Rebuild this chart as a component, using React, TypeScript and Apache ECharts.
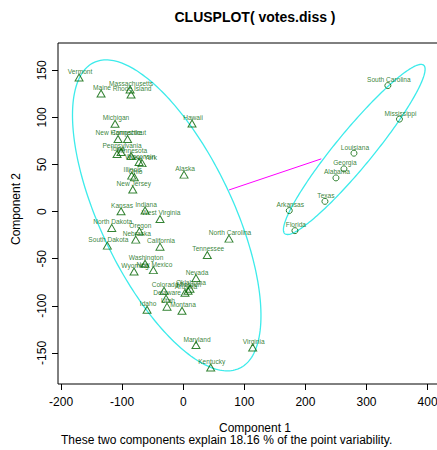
import React, { useEffect, useRef } from 'react';
import * as echarts from 'echarts';

const cluster1Names = [
  'Vermont', 'Maine', 'Massachusetts', 'Rhode Island', 'Michigan', 'New Hampshire', 'Connecticut',
  'Pennsylvania', 'Iowa', 'Minnesota', 'Wisconsin', 'New York', 'Illinois', 'Ohio', 'New Jersey',
  'Alaska', 'Hawaii', 'Kansas', 'Indiana', 'West Virginia', 'North Dakota', 'Oregon', 'Nebraska',
  'South Dakota', 'California', 'North Carolina', 'Tennessee', 'Washington', 'Wyoming', 'New Mexico',
  'Nevada', 'Colorado', 'Delaware', 'Utah', 'Idaho', 'Montana', 'Arizona', 'Missouri', 'Oklahoma',
  'Maryland', 'Virginia', 'Kentucky'
];
const cluster1X = [
  -170.5, -134.5, -87.0, -85.4, -111.6, -106.7, -91.1,
  -101.8, -108.3, -85.4, -72.3, -67.4, -84.3, -80.0, -82.6,
  1.3, 14.4, -101.8, -62.5, -38.0, -117.0, -71.8, -77.7,
  -124.2, -38.0, 74.9, 39.4, -62.5, -80.5, -48.9,
  20.9, -31.4, -28.1, -26.5, -59.2, -2.0, 2.9, 7.9, 11.1,
  20.9, 113.7, 45.0
];
const cluster1Y = [
  142.4, 125.4, 129.6, 124.3, 93.2, 77.1, 77.1,
  63.3, 61.1, 59.0, 52.6, 51.5, 38.2, 36.4, 23.4,
  39.3, 93.5, 0.3, 1.1, -7.8, -17.3, -20.9, -29.7,
  -36.1, -37.2, -28.7, -46.0, -55.4, -63.6, -62.1,
  -70.6, -84.0, -92.4, -100.9, -104.1, -105.2, -86.1, -84.0, -81.8,
  -141.6, -144.2, -165.4
];
const cluster2Names = ['South Carolina', 'Mississippi', 'Louisiana', 'Georgia', 'Alabama', 'Texas', 'Arkansas', 'Florida'];
const cluster2X = [335.0, 354.0, 279.5, 263.1, 250.0, 232.0, 173.6, 182.9];
const cluster2Y = [133.8, 98.2, 62.0, 45.4, 35.8, 10.9, 1.1, -20.2];

const xTicks = [-200, -100, 0, 100, 200, 300, 400];
const yTicks = [-150, -100, -50, 0, 50, 100, 150];

const ellipseCenterX = [-27, 280];
const ellipseCenterY = [-4, 66];
const ellipseSemiMajor = [205, 145];
const ellipseSemiMinor = [95, 24];
const ellipseAngleDeg = [-48, 37.5];

const linkX = [75, 226];
const linkY = [23, 56];

const FONT = '"Liberation Sans", Arial, Helvetica, sans-serif';
const GREEN = '#006400';

export default function App() {
  const ref = useRef<HTMLDivElement>(null);
  useEffect(() => {
    if (!ref.current) return;
    const chart = echarts.init(ref.current, null, { renderer: 'svg' });
    const pointLabel = {
      show: true,
      formatter: '{b}',
      position: 'inside',
      offset: [1, -6],
      fontSize: 6.6,
      color: GREEN,
      fontFamily: FONT,
    };
    chart.setOption({
      animation: false,
      grid: {
        left: 58, top: 43, width: 394, height: 341,
        show: true, borderColor: '#000', borderWidth: 1, backgroundColor: 'transparent',
      },
      xAxis: {
        type: 'value', min: -205, max: 440,
        axisLine: { show: false, onZero: false },
        splitLine: { show: false },
        axisTick: { show: true, length: 6, customValues: xTicks, lineStyle: { color: '#000' } },
        axisLabel: { customValues: xTicks, fontSize: 12, color: '#000', margin: 12, fontFamily: FONT },
      },
      yAxis: {
        type: 'value', min: -183, max: 179,
        axisLine: { show: false, onZero: false },
        splitLine: { show: false },
        axisTick: { show: true, length: 6, customValues: yTicks, lineStyle: { color: '#000' } },
        axisLabel: { customValues: yTicks, fontSize: 12, color: '#000', margin: 10, rotate: 90, fontFamily: FONT },
      },
      graphic: [
        { type: 'text', x: 255, y: 17, style: { text: 'CLUSPLOT( votes.diss )', font: `bold 14px ${FONT}`, fill: '#000', textAlign: 'center', textVerticalAlign: 'middle' } },
        { type: 'text', x: 255, y: 428, style: { text: 'Component 1', font: `12px ${FONT}`, fill: '#000', textAlign: 'center', textVerticalAlign: 'middle' } },
        { type: 'text', x: 16, y: 209, rotation: Math.PI / 2, style: { text: 'Component 2', font: `12px ${FONT}`, fill: '#000', textAlign: 'center', textVerticalAlign: 'middle' } },
        { type: 'text', x: 61, y: 440, style: { text: 'These two components explain 18.16 % of the point variability.', font: `12px ${FONT}`, fill: '#000', textAlign: 'left', textVerticalAlign: 'middle' } },
      ],
      series: [
        {
          type: 'custom',
          coordinateSystem: 'cartesian2d',
          silent: true,
          data: ellipseCenterX.map((_, i) => [i, 0]),
          encode: { x: -1, y: -1 },
          renderItem: (params: any, api: any) => {
            const i = params.dataIndex;
            const cx = ellipseCenterX[i];
            const cy = ellipseCenterY[i];
            const a = ellipseSemiMajor[i];
            const b = ellipseSemiMinor[i];
            const th = (ellipseAngleDeg[i] * Math.PI) / 180;
            const pts: number[][] = [];
            for (let k = 0; k <= 240; k++) {
              const t = (2 * Math.PI * k) / 240;
              const dx = a * Math.cos(t);
              const dy = b * Math.sin(t);
              pts.push(api.coord([cx + dx * Math.cos(th) - dy * Math.sin(th), cy + dx * Math.sin(th) + dy * Math.cos(th)]));
            }
            return { type: 'polyline', shape: { points: pts }, style: { fill: null, stroke: '#3DEBEB', lineWidth: 1.3 } };
          },
          z: 1,
        },
        {
          type: 'line',
          data: linkX.map((x, i) => [x, linkY[i]]),
          showSymbol: false,
          symbol: 'none',
          lineStyle: { color: '#FF00FF', width: 1 },
          z: 1,
        },
        {
          type: 'scatter',
          symbol: 'triangle',
          symbolSize: [8, 7],
          itemStyle: { color: 'rgba(0,0,0,0)', borderColor: GREEN, borderWidth: 1 },
          label: pointLabel,
          data: cluster1Names.map((n, i) => ({ name: n, value: [cluster1X[i], cluster1Y[i]] })),
          z: 2,
        },
        {
          type: 'scatter',
          symbol: 'circle',
          symbolSize: 6,
          itemStyle: { color: 'rgba(0,0,0,0)', borderColor: GREEN, borderWidth: 1 },
          label: pointLabel,
          data: cluster2Names.map((n, i) => ({ name: n, value: [cluster2X[i], cluster2Y[i]] })),
          z: 2,
        },
      ],
    });
    return () => chart.dispose();
  }, []);
  return (
    <div style={{ position: 'absolute', left: 0, top: 0, width: 437, height: 450, overflow: 'hidden' }}>
      <div ref={ref} style={{ width: 470, height: 450 }} />
    </div>
  );
}
